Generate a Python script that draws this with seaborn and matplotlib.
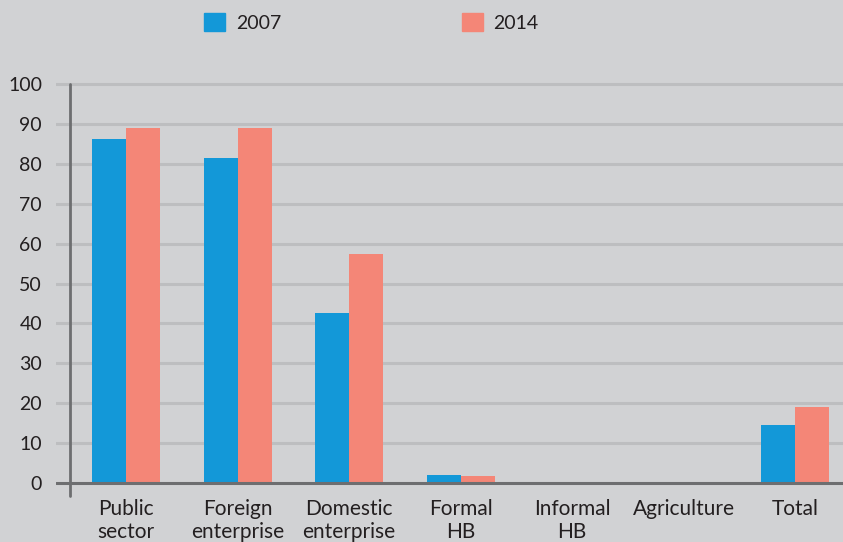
import pandas as pd
import matplotlib.pyplot as plt
import seaborn as sns

# data
sectors = ["Public\nsector", "Foreign\nenterprise", "Domestic\nenterprise",
           "Formal\nHB", "Informal\nHB", "Agriculture", "Total"]
values_2007 = [86.3, 81.5, 42.5, 2.0, 0.0, 0.0, 14.5]
values_2014 = [89.0, 89.0, 57.5, 1.7, 0.0, 0.0, 19.0]
years = ["2007", "2014"]
yticks = [0, 10, 20, 30, 40, 50, 60, 70, 80, 90, 100]

df = pd.DataFrame({
    "sector": sectors * 2,
    "year": [years[0]] * len(sectors) + [years[1]] * len(sectors),
    "value": values_2007 + values_2014,
})

bg = "#d1d2d4"
palette = {"2007": "#1398d8", "2014": "#f48677"}

sns.set_style("white")
plt.rcParams["font.family"] = ["Lato", "DejaVu Sans"]

fig = plt.figure(figsize=(8.43, 5.42), dpi=100, facecolor=bg)
ax = fig.add_axes([56 / 843, 1 - 499 / 542, 1 - 56 / 843, (499 - 80) / 542])
ax.set_facecolor(bg)

sns.barplot(data=df, x="sector", y="value", hue="year", palette=palette,
            width=0.61, gap=0, saturation=1, linewidth=0, ax=ax, zorder=3)

ax.set_xlim(-0.628, 6.43)
ax.set_ylim(-4, 101)
ax.set_yticks(yticks)
ax.set_yticklabels([str(v) for v in yticks])

# grid lines
for v in yticks[1:]:
    ax.axhline(v, color="#bdbec0", lw=2.2, zorder=1)
ax.axhline(0, color="#6d6e70", lw=2.2, zorder=4)
ax.plot([-0.502, -0.502], [-3.3, 100], color="#6d6e70", lw=2,
        clip_on=False, zorder=4)

for s in ax.spines.values():
    s.set_visible(False)

ax.tick_params(axis="y", length=0, pad=10, labelsize=14, labelcolor="#231f20")
ax.tick_params(axis="x", length=0, pad=0, labelsize=15, labelcolor="#231f20")
ax.set_xlabel("")
ax.set_ylabel("")

ax.get_legend().remove()
handles = [plt.Rectangle((0, 0), 1, 1, color=palette[y]) for y in years]
fig.legend(handles, years, loc="upper left",
           bbox_to_anchor=(204 / 843, 1 - 13 / 542), ncol=2, frameon=False,
           fontsize=14, handlelength=1.08, handleheight=1.08,
           handletextpad=0.55, columnspacing=9.3, borderpad=0,
           borderaxespad=0, labelcolor="#231f20")

fig.savefig("out.png", dpi=100, facecolor=bg)
